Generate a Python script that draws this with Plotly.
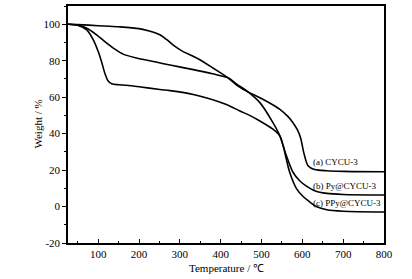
import plotly.graph_objects as go

# CYCU-3
temp_a = [25, 50, 100, 150, 200, 225, 251, 268, 283, 308, 330, 349, 381, 418, 440, 463, 496, 520, 545, 565, 577, 588, 596, 603, 614, 630, 660, 700, 800]
wt_a = [100, 99.8, 99.2, 98.6, 97.6, 96.3, 94.2, 91.5, 88.7, 85, 82.7, 80.5, 76, 70.6, 66.5, 63.3, 59.7, 56.8, 53.3, 49.3, 46, 42, 37.5, 30, 22.4, 20.3, 19.6, 19.3, 19.1]
# Py@CYCU-3
temp_b = [25, 50, 72, 96, 121, 137, 161, 194, 235, 276, 333, 380, 418, 440, 463, 496, 528, 545, 561, 577, 594, 610, 630, 660, 700, 800]
wt_b = [100, 99.5, 97.8, 94.2, 89.6, 86.9, 83.6, 81.5, 79.6, 77.6, 75.1, 72.8, 70.6, 67, 63.6, 57, 46, 38.7, 27.8, 18.8, 14, 11.2, 8.7, 7.2, 6.6, 6.3]
# PPy@CYCU-3
temp_c = [25, 50, 72, 88, 100, 108, 116, 124, 133, 150, 169, 200, 251, 276, 333, 414, 447, 471, 496, 528, 545, 553, 569, 586, 602, 618, 634, 660, 700, 800]
wt_c = [100, 99.5, 96.9, 91.4, 85, 79.6, 73.3, 69, 67.3, 66.8, 66.5, 65.7, 64.2, 63.6, 61.5, 56, 52.4, 50, 46.9, 42.4, 38.7, 33.3, 18.8, 9.7, 5.5, 2.5, 0, -1.8, -2.6, -3]

labels = ["(a) CYCU-3", "(b) Py@CYCU-3", "(c) PPy@CYCU-3"]
label_y = [24.5, 11.5, 2.2]

x_ticks = [100, 200, 300, 400, 500, 600, 700, 800]
y_ticks = [-20, 0, 20, 40, 60, 80, 100]
y_ticktext = ["-20", "0", "20", "40", "60", "80", "100"]

FONT = "Liberation Serif"

fig = go.Figure()
for t, w in [(temp_a, wt_a), (temp_b, wt_b), (temp_c, wt_c)]:
    fig.add_trace(go.Scatter(x=t, y=w, mode="lines",
                             line=dict(color="black", width=1.6, shape="spline", smoothing=0.8),
                             showlegend=False, hoverinfo="skip"))

for lab, ly in zip(labels, label_y):
    fig.add_annotation(x=621, y=ly, text=lab, showarrow=False, xanchor="left", yanchor="middle",
                       xref="x", yref="y", font=dict(family=FONT, size=9, color="black"))

fig.add_annotation(x=0.503, y=-0.105, xref="paper", yref="paper", text="Temperature / ℃",
                   showarrow=False, xanchor="center", yanchor="middle",
                   font=dict(family=FONT, size=11, color="black"))
fig.add_annotation(x=-0.098, y=0.5, xref="paper", yref="paper", text="Weight / %",
                   showarrow=False, xanchor="center", yanchor="middle", textangle=-90,
                   font=dict(family=FONT, size=11, color="black"))

fig.update_layout(
    width=412, height=279,
    margin=dict(l=68, r=28, t=6, b=36, autoexpand=False),
    paper_bgcolor="white", plot_bgcolor="white",
    font=dict(family=FONT, size=11, color="black"),
    showlegend=False,
)
fig.update_xaxes(range=[26, 800], tickmode="array", tickvals=x_ticks, automargin=False,
                 ticks="inside", ticklen=4, tickwidth=1, tickcolor="black",
                 minor=dict(tickmode="array", tickvals=[50, 150, 250, 350, 450, 550, 650, 750],
                            ticks="inside", ticklen=2.5, tickcolor="black"),
                 showline=True, linecolor="black", linewidth=1.5, mirror=True,
                 showgrid=False, zeroline=False,
                 tickfont=dict(size=11))
fig.update_yaxes(range=[-20, 110], tickmode="array", tickvals=y_ticks, ticktext=y_ticktext, automargin=False,
                 ticks="outside", ticklen=4, tickwidth=1, tickcolor="black",
                 minor=dict(tickmode="array", tickvals=[-10, 10, 30, 50, 70, 90, 110],
                            ticks="outside", ticklen=2.5, tickcolor="black"),
                 showline=True, linecolor="black", linewidth=1.5, mirror=True,
                 showgrid=False, zeroline=False,
                 tickfont=dict(size=11))

fig.write_html("out.html", config={"displayModeBar": False},
               post_script="document.body.style.margin='0px';document.body.style.overflow='hidden';")
